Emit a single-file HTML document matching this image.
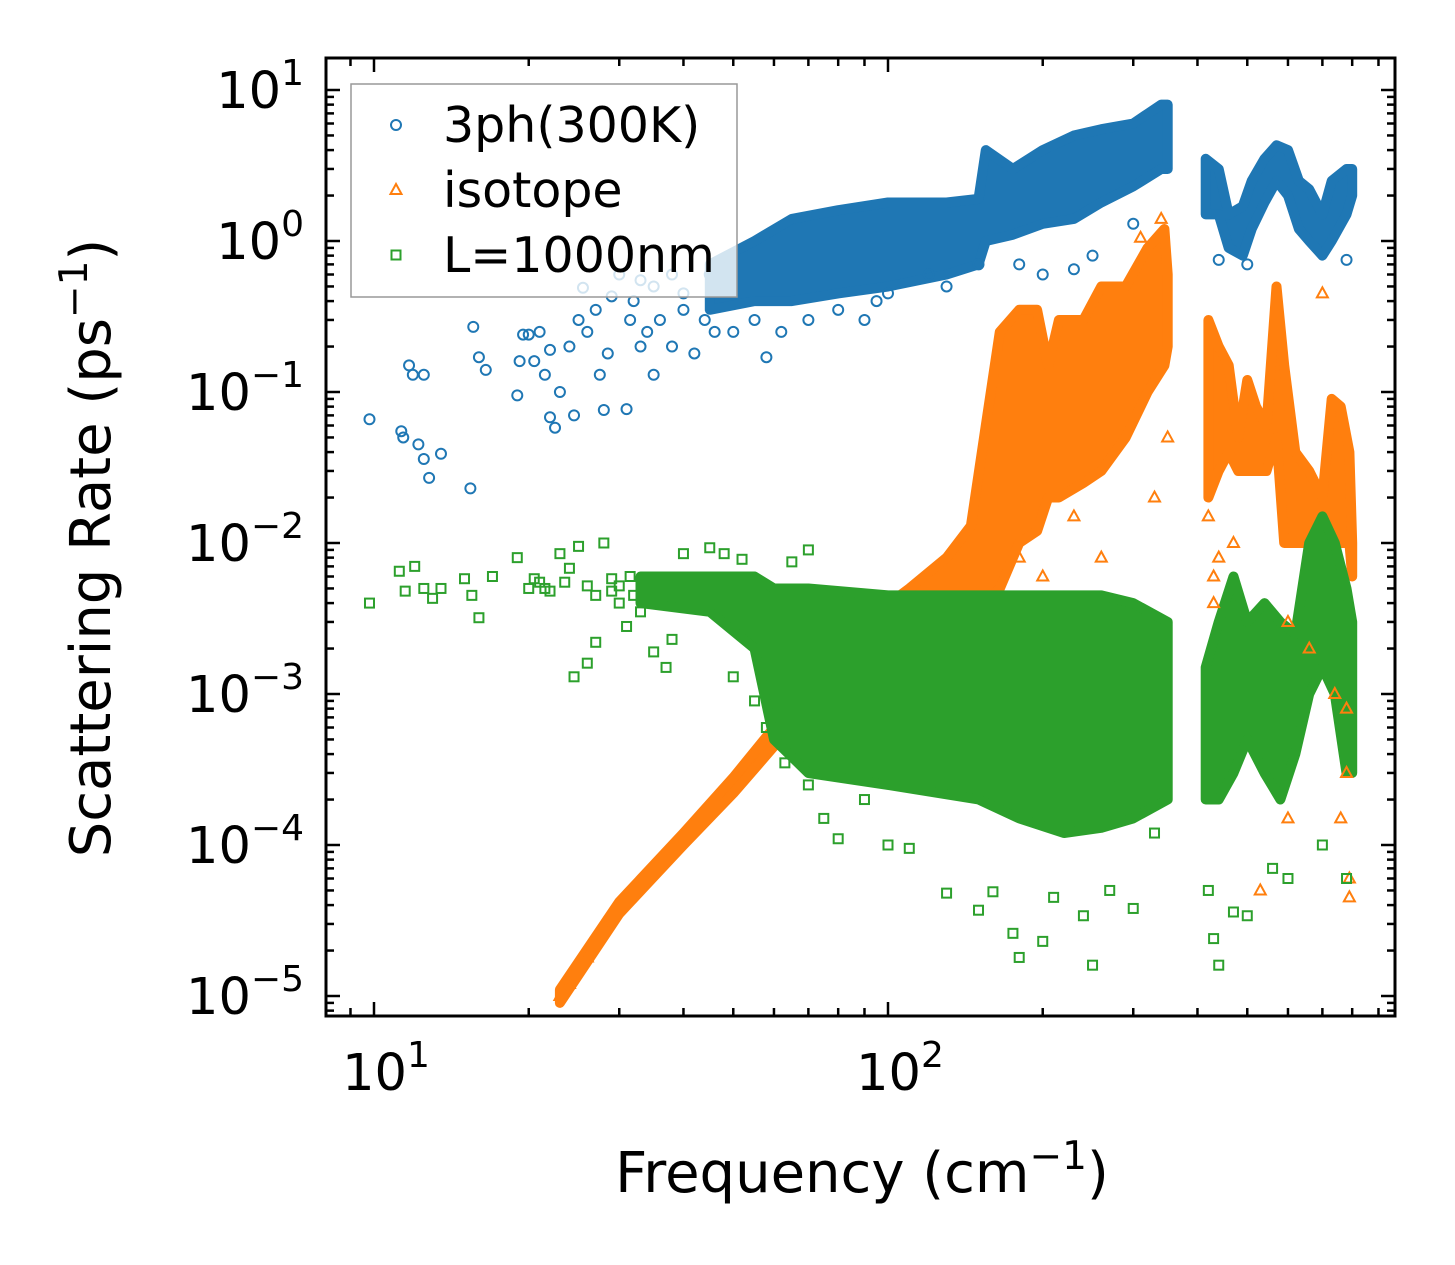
<!DOCTYPE html>
<html><head><meta charset="utf-8"><style>
html,body{margin:0;padding:0;background:#fff;}
svg{display:block;font-family:"DejaVu Sans","Liberation Sans",sans-serif;}
</style></head><body>
<svg id="chart" width="1455" height="1265" viewBox="0 0 1455 1265">
<g id="bands"></g><g id="marks"></g><g id="axes"></g><g id="legend"></g>
</svg>
<script>
// ---- data (frequency cm^-1, rate ps^-1) ----
const blueBandX  =[45,55,65,80,100,130,150,155,175,200,230,260,300,340,350];
const blueBandLo =[0.35,0.4,0.4,0.45,0.5,0.6,0.7,1.0,1.1,1.3,1.4,1.8,2.3,3,3];
const blueBandHi =[0.7,1.0,1.4,1.6,1.8,1.8,1.9,4,3,4,5,5.5,6,8,8];
const blueBand2X =[415,440,460,490,510,540,570,600,630,660,700,730,780,800];
const blueBand2Lo=[1.5,1.5,0.9,0.8,1.2,1.8,2.5,2,1.2,1,0.8,1,1.5,2];
const blueBand2Hi=[3.5,3,1.5,1.7,2.5,3.5,4.3,4,2.5,2.2,1.5,2.5,3,3];
const bluePts=[[9.8,0.066],[11.3,0.055],[11.4,0.05],[11.7,0.15],[11.9,0.13],[12.2,0.045],[12.5,0.13],[12.5,0.036],[12.8,0.027],[13.5,0.039],[15.4,0.023],[15.6,0.27],[16,0.17],[16.5,0.14],[19,0.095],[19.2,0.16],[19.5,0.24],[20,0.24],[20.5,0.16],[21,0.25],[21.5,0.13],[22,0.068],[22.5,0.058],[22,0.19],[23,0.1],[24,0.2],[24.5,0.07],[25,0.3],[25.5,0.49],[26,0.25],[27,0.35],[27.5,0.13],[28,0.076],[28.5,0.18],[29,0.43],[30,0.6],[31,0.077],[31.5,0.3],[32,0.4],[33,0.2],[34,0.25],[35,0.13],[36,0.3],[38,0.2],[40,0.45],[42,0.18],[44,0.3],[46,0.25],[50,0.25],[55,0.3],[58,0.17],[62,0.25],[70,0.3],[80,0.35],[90,0.3],[95,0.4],[100,0.45],[120,0.6],[130,0.5],[150,0.7],[180,0.7],[200,0.6],[230,0.65],[250,0.8],[300,1.3],[440,0.75],[500,0.7],[780,0.75],[33,0.55],[38,0.6],[45,0.6],[35,0.5],[40,0.35],[48,0.45]];
const orgBandX  =[23,30,40,50,60,70,90,110,130,145,155,165,180,195,205,215,240,260,290,320,345,350];
const orgBandLo =[9e-6,3.5e-5,1e-4,2.2e-4,4.5e-4,8e-4,1.5e-3,2.5e-3,3.5e-3,4e-3,4e-3,5e-3,0.01,0.012,0.02,0.02,0.025,0.03,0.05,0.1,0.15,0.2];
const orgBandHi =[1.1e-5,4.2e-5,1.2e-4,2.8e-4,6e-4,1.3e-3,3e-3,5e-3,8e-3,1.3e-2,0.06,0.25,0.35,0.35,0.15,0.3,0.3,0.5,0.5,0.9,1.2,0.6];
const orgBand2X =[420,440,460,480,500,520,545,570,590,620,660,700,730,760,790,800];
const orgBand2Lo=[0.02,0.03,0.04,0.03,0.03,0.03,0.03,0.05,0.01,0.01,0.01,0.005,0.01,0.01,0.01,0.006];
const orgBand2Hi=[0.3,0.2,0.15,0.05,0.12,0.08,0.06,0.5,0.15,0.04,0.03,0.02,0.09,0.08,0.04,0.01];
const orgPts=[[23,1e-5],[24,1.2e-5],[26,1.8e-5],[28,3e-5],[340,1.4],[310,1.05],[700,0.45],[420,0.015],[430,0.006],[440,0.008],[430,0.004],[470,0.01],[600,0.003],[660,0.002],[740,0.001],[780,0.0008],[780,0.0003],[760,0.00015],[790,0.00006],[790,0.000045],[600,0.00015],[530,0.00005],[200,0.006],[260,0.008],[330,0.02],[350,0.05],[230,0.015],[180,0.008]];
const grnBandX  =[33,45,55,60,70,100,150,180,220,260,300,350];
const grnBandLo =[4e-3,3.5e-3,2e-3,5e-4,3e-4,2.5e-4,2e-4,1.5e-4,1.2e-4,1.3e-4,1.5e-4,2e-4];
const grnBandHi =[6e-3,6e-3,6e-3,5e-3,5e-3,4.5e-3,4.5e-3,4.5e-3,4.5e-3,4.5e-3,4e-3,3e-3];
const grnBand2X =[415,440,470,500,540,580,620,660,700,740,780,800];
const grnBand2Lo=[2e-4,2e-4,3e-4,5e-4,3e-4,2e-4,4e-4,1e-3,1.5e-3,1e-3,3e-4,3e-4];
const grnBand2Hi=[1.5e-3,3e-3,6e-3,3e-3,4e-3,3e-3,2.5e-3,1e-2,1.5e-2,1e-2,5e-3,3e-3];
const grnPts=[[9.8,0.004],[11.2,0.0065],[11.5,0.0048],[12,0.007],[12.5,0.005],[13,0.0043],[13.5,0.005],[15,0.0058],[15.5,0.0045],[16,0.0032],[17,0.006],[19,0.008],[20,0.005],[21,0.0055],[23,0.0085],[24,0.0068],[25,0.0095],[24.5,0.0013],[26,0.0016],[27,0.0022],[28,0.01],[29,0.0048],[30,0.004],[31,0.0028],[33,0.0035],[35,0.0019],[37,0.0015],[38,0.0023],[40,0.0085],[42,0.0044],[45,0.0093],[48,0.0085],[50,0.0013],[55,0.0009],[58,0.0006],[63,0.00035],[70,0.00025],[75,0.00015],[80,0.00011],[90,0.0002],[100,0.0001],[110,0.000095],[130,0.000048],[150,0.000037],[160,0.000049],[175,0.000026],[180,0.000018],[200,0.000023],[210,0.000045],[250,0.000016],[240,0.000034],[270,0.00005],[300,0.000038],[330,0.00012],[430,0.000024],[440,0.000016],[470,0.000036],[500,0.000034],[420,0.00005],[560,0.00007],[600,0.00006],[700,0.0001],[780,0.00006],[70,0.009],[65,0.0075],[52,0.0078],[280,0.00025],[20.5,0.0058],[21.5,0.005],[22,0.0048],[23.5,0.0055],[26,0.0052],[27,0.0045],[29,0.0058],[30,0.0052],[31.5,0.006],[32,0.0045]];
const xTickVals=[10,100];
const yTickExps=[1,0,-1,-2,-3,-4,-5];

// ---- axes ----
const L=326,R=1395,T=58,B=1016;
const X=f=>374+514*(Math.log10(f)-1);
const Y=v=>90-151*(Math.log10(v)-1);
const NS="http://www.w3.org/2000/svg";
function mk(tag,attrs,parent){const e=document.createElementNS(NS,tag);for(const k in attrs)e.setAttribute(k,attrs[k]);parent.appendChild(e);return e;}
const bands=document.getElementById('bands'),marks=document.getElementById('marks'),axes=document.getElementById('axes'),legend=document.getElementById('legend');
const C={b:'#1f77b4',o:'#ff7f0e',g:'#2ca02c'};

function band(xs,lo,hi,col,name){
  let pts=xs.map((x,i)=>X(x).toFixed(1)+','+Y(hi[i]).toFixed(1));
  for(let i=xs.length-1;i>=0;i--)pts.push(X(xs[i]).toFixed(1)+','+Y(lo[i]).toFixed(1));
  const p=mk('polygon',{points:pts.join(' '),fill:col,stroke:col,'stroke-width':10,'stroke-linejoin':'round'},bands);
  
  
}
function marker(kind,x,y,col,parent){
  let e;
  if(kind==='c')e=mk('circle',{cx:x,cy:y,r:5,fill:'none',stroke:col,'stroke-width':2},parent);
  else if(kind==='t')e=mk('polygon',{points:`${x},${y-6} ${x-5.5},${y+4} ${x+5.5},${y+4}`,fill:'none',stroke:col,'stroke-width':2},parent);
  else e=mk('rect',{x:x-4.5,y:y-4.5,width:9,height:9,fill:'none',stroke:col,'stroke-width':2},parent);
  return e;
}
function pts(arr,kind,col,name){
  arr.forEach(d=>{const e=marker(kind,X(d[0]),Y(d[1]),col,marks);
    
    });
}
band(blueBandX,blueBandLo,blueBandHi,C.b,'3ph-band-low');
band(blueBand2X,blueBand2Lo,blueBand2Hi,C.b,'3ph-band-high');
pts(bluePts,'c',C.b,'3ph-point');
band(orgBandX,orgBandLo,orgBandHi,C.o,'isotope-band-low');
band(orgBand2X,orgBand2Lo,orgBand2Hi,C.o,'isotope-band-high');
pts(orgPts,'t',C.o,'isotope-point');
band(grnBandX,grnBandLo,grnBandHi,C.g,'boundary-band-low');
band(grnBand2X,grnBand2Lo,grnBand2Hi,C.g,'boundary-band-high');
pts(grnPts,'s',C.g,'boundary-point');

const cp=mk('clipPath',{id:'cp'},document.getElementById('chart'));
mk('rect',{x:L,y:T,width:R-L,height:B-T},cp);
bands.setAttribute('clip-path','url(#cp)');marks.setAttribute('clip-path','url(#cp)');

for(let d=0;d<=2;d++)for(let m=1;m<=9;m++){
  const f=m*Math.pow(10,d);const x=X(f);if(x<L||x>R)continue;
  const len=m===1?14:8;
  const t1=mk('line',{x1:x,x2:x,y1:B,y2:B-len,stroke:'#000','stroke-width':2.5},axes);
  
  const t2=mk('line',{x1:x,x2:x,y1:T,y2:T+len,stroke:'#000','stroke-width':2.5},axes);
  
}
for(let e=-6;e<=1;e++)for(let m=1;m<=9;m++){
  const v=m*Math.pow(10,e);const y=Y(v);if(y<T||y>B)continue;
  const len=m===1?14:8;
  const t1=mk('line',{x1:L,x2:L+len,y1:y,y2:y,stroke:'#000','stroke-width':2.5},axes);
  
  const t2=mk('line',{x1:R,x2:R-len,y1:y,y2:y,stroke:'#000','stroke-width':2.5},axes);
  
}
const fr=mk('rect',{x:L,y:T,width:R-L,height:B-T,fill:'none',stroke:'#000','stroke-width':3},axes);


xTickVals.forEach(v=>{
  const t=mk('text',{x:X(v)+12,y:1090,'font-size':51,'text-anchor':'middle'},axes);
  
  t.innerHTML='10<tspan font-size="36" dy="-23">'+Math.round(Math.log10(v))+'</tspan>';
});
yTickExps.forEach(e=>{
  const t=mk('text',{x:304,y:Y(Math.pow(10,e))+18,'font-size':51,'text-anchor':'end'},axes);
  
  t.innerHTML='10<tspan font-size="36" dy="-23">'+(e<0?'\u2212'+(-e):e)+'</tspan>';
});
const xl=mk('text',{x:862,y:1192,'font-size':56,'text-anchor':'middle'},axes);

xl.innerHTML='Frequency (cm<tspan font-size="39" dy="-23">\u22121</tspan><tspan dy="23">)</tspan>';
const yl=mk('text',{x:0,y:0,'font-size':56,'text-anchor':'middle',transform:'translate(110,548) rotate(-90)'},axes);

yl.innerHTML='Scattering Rate (ps<tspan font-size="39" dy="-23">\u22121</tspan><tspan dy="23">)</tspan>';

const lb=mk('rect',{x:351,y:84,width:386,height:213,fill:'#fff','fill-opacity':0.8,stroke:'#999','stroke-width':1.5},legend);

[['3ph(300K)','c',C.b,125],['isotope','t',C.o,190],['L=1000nm','s',C.g,255]].forEach(r=>{
  const g=mk('g',{},legend);
  
  marker(r[1],396,r[3],r[2],g);
  const t=mk('text',{x:443,y:r[3]+17,'font-size':49},g);t.textContent=r[0];
});
</script>
</body></html>
